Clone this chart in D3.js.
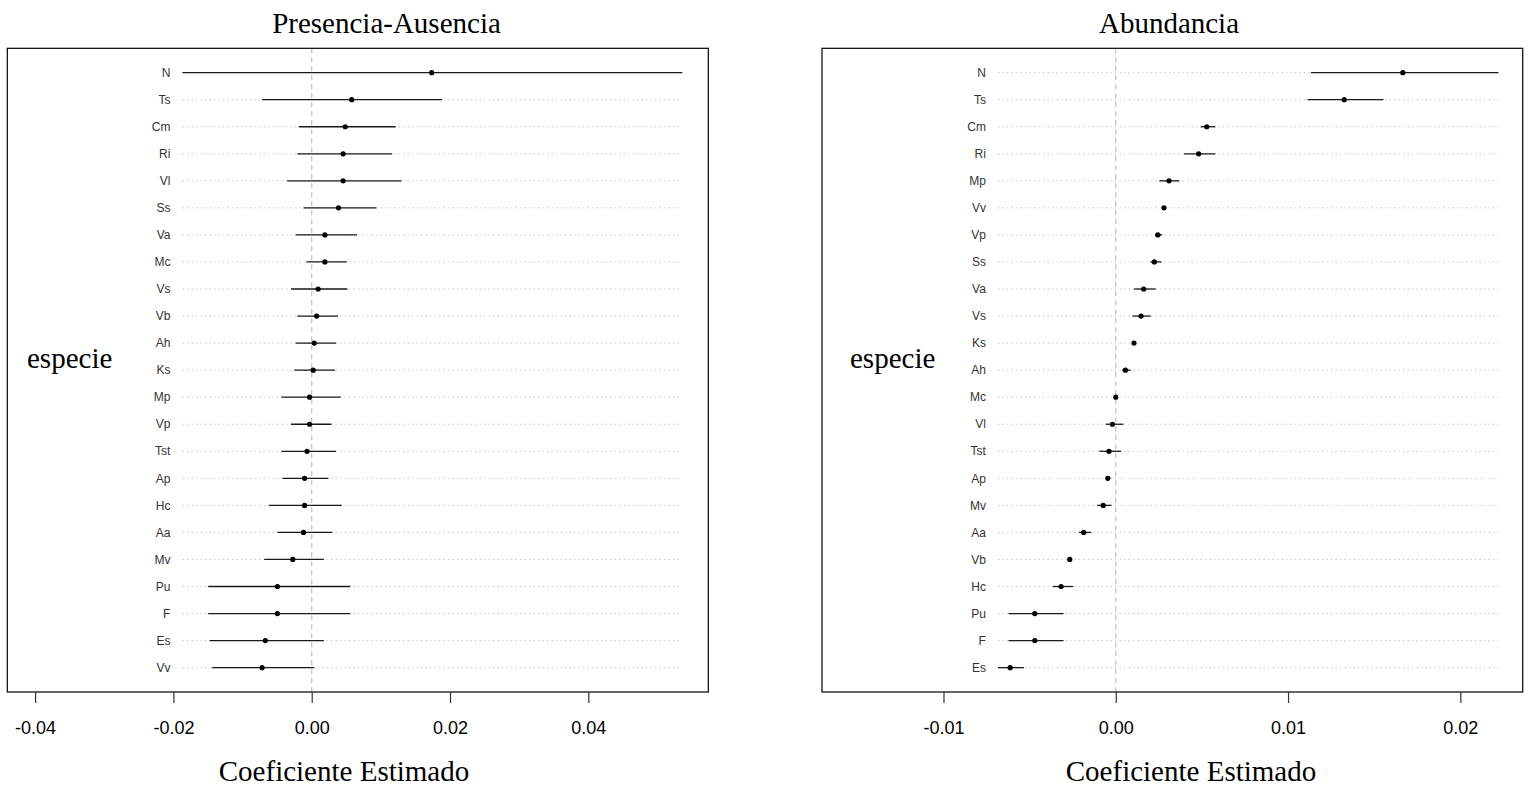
<!DOCTYPE html>
<html>
<head>
<meta charset="utf-8">
<script src="https://cdn.jsdelivr.net/npm/d3@7"></script>
<style>
  body { margin: 0; background: #fff; }
  svg { display: block; }
</style>
</head>
<body>
<svg width="1530" height="787"></svg>
<script>
// Presencia-Ausencia: species, estimate, lower / upper interval
const paSpecies = ["N","Ts","Cm","Ri","Vl","Ss","Va","Mc","Vs","Vb","Ah","Ks","Mp","Vp","Tst","Ap","Hc","Aa","Mv","Pu","F","Es","Vv"]
const paEst = [0.01735,0.00578,0.00485,0.00454,0.00454,0.00387,0.00191,0.00191,0.00093,0.00072,0.00036,0.00021,-0.00031,-0.00031,-0.00067,-0.00103,-0.00103,-0.00119,-0.00274,-0.00496,-0.00496,-0.00671,-0.00718]
const paLo = [-0.01869,-0.00718,-0.00186,-0.00207,-0.00356,-0.00119,-0.00232,-0.00077,-0.00299,-0.00207,-0.00232,-0.00253,-0.00439,-0.00299,-0.00439,-0.00423,-0.0062,-0.00496,-0.00687,-0.01497,-0.01497,-0.01477,-0.0144]
const paHi = [0.05359,0.01885,0.01213,0.01162,0.01301,0.00935,0.00656,0.00506,0.00516,0.00382,0.00351,0.00336,0.00418,0.00284,0.00351,0.00243,0.00434,0.00299,0.00176,0.00558,0.00558,0.00176,0.00036]
const paTicks = [-0.04,-0.02,0,0.02,0.04]

// Abundancia
const abSpecies = ["N","Ts","Cm","Ri","Mp","Vv","Vp","Ss","Va","Vs","Ks","Ah","Mc","Vl","Tst","Ap","Mv","Aa","Vb","Hc","Pu","F","Es"]
const abEst = [0.01666,0.01326,0.00528,0.00481,0.00309,0.0028,0.00244,0.00224,0.00162,0.00147,0.00106,0.00056,0.0,-0.00019,-0.00039,-0.00046,-0.00073,-0.00186,-0.00267,-0.00317,-0.0047,-0.0047,-0.00613]
const abLo = [0.01133,0.01113,0.00493,0.00396,0.00253,0.00276,0.00228,0.00201,0.00106,0.00097,0.00102,0.00037,-0.00004,-0.00058,-0.00095,-0.0005,-0.00108,-0.00213,-0.00271,-0.00365,-0.00622,-0.00622,-0.00684]
const abHi = [0.02221,0.01554,0.00578,0.00578,0.00369,0.00284,0.00269,0.00265,0.00232,0.00203,0.0011,0.00087,0.00004,0.00044,0.00031,-0.00042,-0.00025,-0.00143,-0.00263,-0.00247,-0.00303,-0.00303,-0.00533]
const abTicks = [-0.01,0,0.01,0.02]

const svg = d3.select("svg")
const plotTop = 48.3, plotBottom = 692

function drawPanel(p) {
  const rows = p.species.map((s, i) => ({name: s, est: p.est[i], lo: p.lo[i], hi: p.hi[i]}))

  const x = d3.scaleLinear().domain(p.domain).range([p.left, p.right])
  const y = d3.scalePoint().domain(p.species).range([plotTop, plotBottom]).padding(0.9)

  const g = svg.append("g")

  const xmin = d3.min(rows, d => d.lo), xmax = d3.max(rows, d => d.hi)

  // dotted guide lines
  g.selectAll(".guide").data(rows).enter().append("line")
    .attr("x1", x(xmin)).attr("x2", x(xmax))
    .attr("y1", d => y(d.name)).attr("y2", d => y(d.name))
    .attr("stroke", "#c8c8c8").attr("stroke-width", 1)
    .attr("stroke-dasharray", "1.5,3")

  // zero line
  g.append("line")
    .attr("x1", x(0)).attr("x2", x(0))
    .attr("y1", plotTop).attr("y2", plotBottom)
    .attr("stroke", "#c4c4c4").attr("stroke-width", 1.3)
    .attr("stroke-dasharray", "5,4")

  // intervals
  g.selectAll(".ci").data(rows).enter().append("line")
    .attr("x1", d => x(d.lo)).attr("x2", d => x(d.hi))
    .attr("y1", d => y(d.name)).attr("y2", d => y(d.name))
    .attr("stroke", "#1a1a1a").attr("stroke-width", 1.3)

  g.selectAll(".pt").data(rows).enter().append("circle")
    .attr("cx", d => x(d.est)).attr("cy", d => y(d.name))
    .attr("r", 2.6).attr("fill", "#000")

  // species labels
  g.selectAll(".lab").data(rows).enter().append("text")
    .attr("x", x(xmin) - 12)
    .attr("y", d => y(d.name))
    .attr("dy", "0.35em")
    .attr("text-anchor", "end")
    .attr("font-family", "Liberation Sans, Arial, sans-serif")
    .attr("font-size", "12px")
    .attr("fill", "#333")
    .text(d => d.name)

  // box
  g.append("rect")
    .attr("x", p.left).attr("y", plotTop)
    .attr("width", p.right - p.left).attr("height", plotBottom - plotTop)
    .attr("fill", "none").attr("stroke", "#000").attr("stroke-width", 1.2)

  // x axis
  const xAxis = d3.axisBottom(x).tickValues(p.ticks).tickSize(11).tickPadding(18)
    .tickFormat(d3.format(p.fmt))
  const ax = g.append("g").attr("transform", `translate(0,${plotBottom})`).call(xAxis)
  ax.select(".domain").remove()
  ax.selectAll(".tick line").attr("stroke", "#333").attr("stroke-width", 1.2)
  ax.selectAll(".tick text")
    .attr("font-family", "Liberation Sans, Arial, sans-serif")
    .attr("font-size", "18px").attr("fill", "#000")
    .text(d => d3.format(p.fmt)(d).replace("−", "-"))

  // titles
  g.append("text")
    .attr("x", p.titleX).attr("y", 33)
    .attr("text-anchor", "middle")
    .attr("font-family", "Liberation Serif, Times New Roman, serif")
    .attr("font-size", "29px")
    .text(p.title)

  g.append("text")
    .attr("x", p.xlabX).attr("y", 781)
    .attr("text-anchor", "middle")
    .attr("font-family", "Liberation Serif, Times New Roman, serif")
    .attr("font-size", "29px")
    .text("Coeficiente Estimado")

  g.append("text")
    .attr("x", p.ylabX).attr("y", 368)
    .attr("font-family", "Liberation Serif, Times New Roman, serif")
    .attr("font-size", "29px")
    .text("especie")
}

drawPanel({
  species: paSpecies, est: paEst, lo: paLo, hi: paHi, ticks: paTicks, fmt: ".2f",
  domain: [-0.04402, 0.05735], left: 7.3, right: 708.3,
  title: "Presencia-Ausencia", titleX: 386.5, xlabX: 344, ylabX: 27
})

drawPanel({
  species: abSpecies, est: abEst, lo: abLo, hi: abHi, ticks: abTicks, fmt: ".2f",
  domain: [-0.01705, 0.02362], left: 822, right: 1522.7,
  title: "Abundancia", titleX: 1169, xlabX: 1191, ylabX: 850
})
</script>
</body>
</html>
